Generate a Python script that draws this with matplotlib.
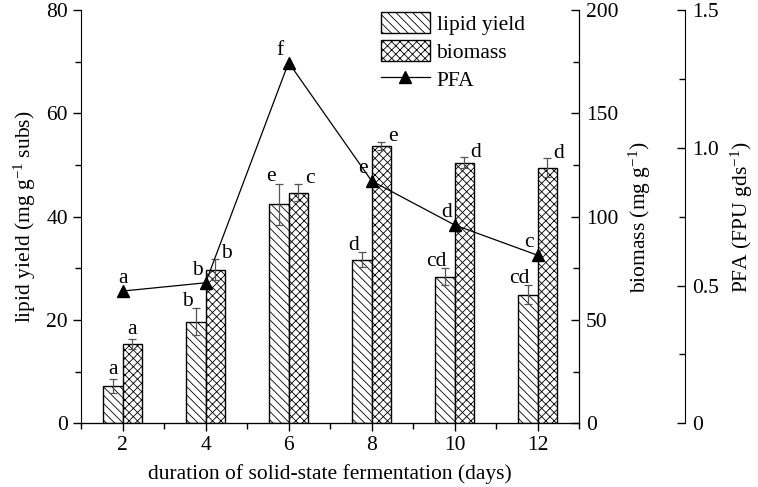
import numpy as np
import matplotlib
matplotlib.use('Agg')
import matplotlib.pyplot as plt
from matplotlib.ticker import MultipleLocator

plt.rcParams['font.family'] = ['Liberation Serif', 'DejaVu Serif']
plt.rcParams['mathtext.default'] = 'regular'
plt.rcParams['hatch.linewidth'] = 0.6

days = [2, 4, 6, 8, 10, 12]
lipid = [7.2, 19.7, 42.4, 31.7, 28.4, 24.9]
lipid_err = [1.3, 2.6, 4.0, 1.5, 1.7, 1.8]
lipid_sig = ['a', 'b', 'e', 'd', 'cd', 'cd']
biomass = [38.4, 74.4, 111.7, 134.3, 126.2, 123.8]
biomass_err = [2.6, 5.0, 4.0, 2.0, 2.5, 4.4]
biomass_sig = ['a', 'b', 'c', 'e', 'd', 'd']
pfa = [0.48, 0.51, 1.31, 0.88, 0.72, 0.61]
pfa_sig = ['a', 'b', 'f', 'e', 'd', 'c']

fs = 15.5
w = 0.47
x = np.array(days, dtype=float)

fig = plt.figure(figsize=(7.58, 4.87), dpi=100)
ax = fig.add_axes([0.107, 0.131, 0.657, 0.848])
ax2 = ax.twinx()
ax3 = ax.twinx()

b1 = ax.bar(x - w / 2, lipid, w, color='white', edgecolor='black', hatch='\\\\\\\\',
            linewidth=1.0, label='lipid yield', zorder=2)
ax.errorbar(x - w / 2, lipid, yerr=lipid_err, fmt='none', ecolor='#555555',
            elinewidth=0.9, capsize=3, capthick=0.9, zorder=3)
b2 = ax2.bar(x + w / 2, biomass, w, color='white', edgecolor='black', hatch='xxxx',
             linewidth=1.0, label='biomass', zorder=2)
ax2.errorbar(x + w / 2, biomass, yerr=biomass_err, fmt='none', ecolor='#555555',
             elinewidth=0.9, capsize=3, capthick=0.9, zorder=3)
l3, = ax3.plot(x, pfa, 'k-', marker='^', markersize=8, linewidth=0.9, label='PFA')

# significance letters
for i in range(len(days)):
    dx1, dy1 = (0, 0) if i == 0 else (-6, -2)
    dx2, dy2 = (0, 0) if i == 0 else (8, -3)
    ax.annotate(lipid_sig[i], (x[i] - w / 2, lipid[i] + lipid_err[i]),
                xytext=(dx1, dy1), textcoords='offset points',
                ha='center', va='bottom', fontsize=fs)
    ax2.annotate(biomass_sig[i], (x[i] + w / 2, biomass[i] + biomass_err[i]),
                 xytext=(dx2, dy2), textcoords='offset points',
                 ha='center', va='bottom', fontsize=fs)
    dx3 = 0 if i == 0 else -6
    ax3.annotate(pfa_sig[i], (x[i], pfa[i]), xytext=(dx3, 2),
                 textcoords='offset points', ha='center', va='bottom', fontsize=fs)

ax.set_xlim(1, 13)
ax.set_ylim(0, 80)
ax2.set_ylim(0, 200)
ax3.set_ylim(0, 1.5)

ax.set_xticks(days)
ax.xaxis.set_minor_locator(MultipleLocator(1))
ax.yaxis.set_major_locator(MultipleLocator(20))
ax.yaxis.set_minor_locator(MultipleLocator(10))
ax2.yaxis.set_major_locator(MultipleLocator(50))
ax2.yaxis.set_minor_locator(MultipleLocator(25))
ax3.set_yticks([0, 0.5, 1.0, 1.5])
ax3.set_yticklabels(['0', '0.5', '1.0', '1.5'])
ax3.yaxis.set_minor_locator(MultipleLocator(0.25))

ax3.spines['right'].set_position(('axes', 1.213))
for a in (ax, ax2, ax3):
    a.spines['top'].set_visible(False)
    a.tick_params(which='major', direction='out', length=6, width=1, labelsize=fs)
    a.tick_params(which='minor', direction='out', length=4, width=1)
for a in (ax2, ax3):
    a.tick_params(which='both', direction='in', pad=5)
ax2.spines['left'].set_visible(False)
ax3.spines['left'].set_visible(False)

ax.set_xlabel('duration of solid-state fermentation (days)', fontsize=fs, labelpad=6)
ax.set_ylabel('lipid yield (mg g$^{-1}$ subs)', fontsize=fs, labelpad=6)
ax2.set_ylabel('biomass (mg g$^{-1}$)', fontsize=fs, labelpad=6)
ax3.set_ylabel('PFA (FPU gds$^{-1}$)', fontsize=fs, labelpad=7)

ax3.legend([b1, b2, l3], ['lipid yield', 'biomass', 'PFA'], loc='upper left',
           bbox_to_anchor=(0.584, 1.016), frameon=False, fontsize=fs,
           handlelength=2.3, handleheight=1.1, labelspacing=0.25,
           handletextpad=0.3, borderaxespad=0)

fig.savefig('out.png', dpi=100)
